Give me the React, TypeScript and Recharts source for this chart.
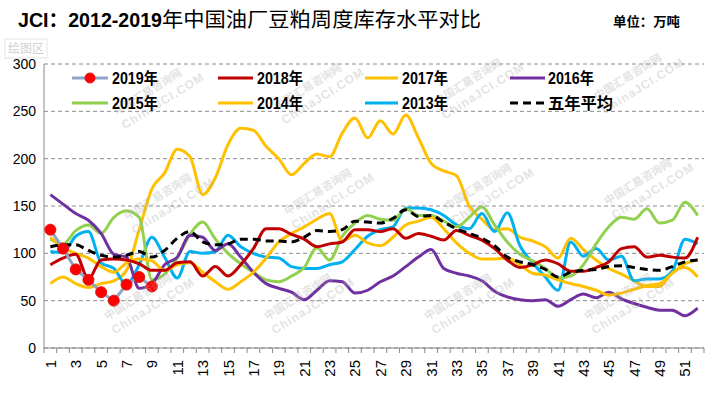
import React from "react";
import { LineChart, Line, XAxis, YAxis, CartesianGrid } from "recharts";

const weeks: number[] = Array.from({ length: 52 }, (_, i) => i + 1);

const y2019 = [125, 105, 83, 72, 59, 50, 67, 75, 65];
const y2018 = [88, 95, 99, 73, 93, 94, 93, 89, 82, 82, 90, 91, 76, 86, 76, 88, 105, 126, 126, 120, 115, 107, 110, 112, 125, 125, 123, 126, 116, 121, 118, 114, 124, 119, 114, 105, 93, 85, 88, 93, 89, 81, 81, 85, 91, 105, 107, 96, 98, 96, 95, 117];
const y2017 = [117, 106, 100, 95, 86, 80, 90, 94, 92, 82, 88, 90, 80, 70, 62, 70, 80, 95, 112, 121, 128, 136, 142, 113, 119, 111, 108, 117, 130, 134, 138, 126, 111, 100, 94, 94, 95, 88, 79, 77, 72, 68, 65, 61, 56, 58, 62, 66, 68, 79, 89, 93];
const y2016 = [162, 152, 142, 135, 121, 99, 96, 63, 68, 88, 96, 119, 117, 103, 110, 96, 80, 68, 63, 59, 51, 61, 71, 70, 58, 61, 70, 76, 86, 96, 104, 84, 79, 76, 71, 60, 54, 51, 50, 51, 44, 51, 57, 53, 59, 52, 47, 43, 40, 40, 34, 42];
const y2015 = [115, 110, 124, 130, 121, 138, 145, 138, 72, 78, 95, 120, 133, 115, 100, 89, 80, 72, 70, 76, 85, 106, 93, 118, 132, 140, 136, 135, 147, 140, 140, 134, 128, 138, 149, 130, 112, 99, 92, 84, 74, 76, 88, 110, 128, 138, 136, 147, 132, 135, 154, 140];
const y2014 = [68, 75, 68, 64, 68, 71, 82, 125, 168, 185, 210, 202, 162, 180, 215, 232, 230, 213, 200, 183, 195, 205, 202, 227, 243, 222, 240, 226, 246, 222, 195, 187, 182, 150, 136, 125, 126, 117, 113, 107, 95, 116, 104, 93, 84, 78, 71, 65, 65, 80, 85, 75];
const y2013 = [102, 101, 118, 123, 90, 84, 67, 88, 117, 96, 74, 102, 100, 102, 119, 107, 100, 96, 95, 86, 84, 84, 88, 91, 104, 118, 125, 128, 148, 148, 146, 140, 130, 126, 142, 123, 143, 108, 90, 75, 61, 112, 97, 105, 93, 97, 71, 73, 73, 81, 115, 110];
const yAvg = [107, 109, 109, 103, 98, 96, 98, 102, 96, 103, 116, 123, 112, 109, 110, 115, 115, 113, 113, 112, 117, 124, 123, 125, 134, 133, 132, 137, 146, 139, 140, 133, 126, 121, 116, 108, 96, 91, 88, 83, 75, 80, 82, 83, 86, 87, 85, 83, 82, 86, 91, 93];

const yTicks = [0, 50, 100, 150, 200, 250, 300];
const xTicks: number[] = [];
for (let i = 0; i <= 52; i++) {
  xTicks.push(i + 0.5);
  if (i + 1 <= 52 && (i + 1) % 2 === 1) xTicks.push(i + 1);
}
xTicks.sort((a, b) => a - b);

const title1 = "JCI：2012-2019";
const title2 = "年中国油厂豆粕周度库存水平对比";
const unitText = "单位：万吨";

const data = weeks.map((w, i) => ({
  week: w,
  s2019: i < y2019.length ? y2019[i] : null,
  s2018: y2018[i],
  s2017: y2017[i],
  s2016: y2016[i],
  s2015: y2015[i],
  s2014: y2014[i],
  s2013: y2013[i],
  avg: yAvg[i],
}));

const legendItems = [
  { name: "2019年", color: "#8EA5C8", row: 0, col: 0, marker: true },
  { name: "2018年", color: "#C00000", row: 0, col: 1 },
  { name: "2017年", color: "#FFC000", row: 0, col: 2 },
  { name: "2016年", color: "#7030A0", row: 0, col: 3 },
  { name: "2015年", color: "#92D050", row: 1, col: 0 },
  { name: "2014年", color: "#FFC000", row: 1, col: 1 },
  { name: "2013年", color: "#00B0F0", row: 1, col: 2 },
  { name: "五年平均", color: "#000000", row: 1, col: 3, dash: true },
];
const legendCols = [
  { x1: 72, x2: 108, tx: 112 },
  { x1: 218, x2: 253, tx: 257 },
  { x1: 365, x2: 398, tx: 402 },
  { x1: 510, x2: 545, tx: 548 },
];
const legendRows = [78, 103];

const XTick = (props: any) => {
  const { x, y, payload } = props;
  const v = payload.value;
  if (v % 1 !== 0) {
    return <line x1={x} x2={x} y1={y} y2={y + 5} stroke="#888" strokeWidth={1} />;
  }
  if (v % 2 === 1) {
    const ty = y + 12;
    return (
      <text
        x={x}
        y={ty}
        transform={`rotate(-90 ${x} ${ty})`}
        textAnchor="end"
        dominantBaseline="central"
        fontSize={15}
        fontFamily="Liberation Sans, Arial, sans-serif"
        fill="#000"
      >
        {v}
      </text>
    );
  }
  return <g />;
};

const watermarkPos = [
  [150, 95], [310, 90], [470, 85], [630, 80],
  [160, 200], [320, 195], [480, 190], [640, 185],
  [140, 300], [300, 300], [460, 300], [620, 300],
];

export default function App() {
  return (
    <div style={{ position: "absolute", left: 0, top: 0, width: 721, height: 396, background: "#fff" }}>
      <LineChart
        width={721}
        height={396}
        data={data}
        margin={{ top: 64, right: 17, bottom: 8, left: 0 }}
      >
        <CartesianGrid horizontal vertical={false} stroke="#8c8c8c" strokeDasharray="4 3" />
        <XAxis
          dataKey="week"
          type="number"
          domain={[0.5, 52.5]}
          ticks={xTicks}
          interval={0}
          tickSize={0}
          tickMargin={0}
          tickLine={false}
          tick={<XTick />}
          axisLine={{ stroke: "#888" }}
          height={40}
          allowDataOverflow
        />
        <YAxis
          domain={[0, 300]}
          ticks={yTicks}
          interval={0}
          width={44}
          tickSize={0}
          tickMargin={8}
          tickLine={false}
          axisLine={{ stroke: "#888" }}
          tick={{ fontSize: 14, fill: "#000", fontFamily: "Liberation Sans, Arial, sans-serif" }}
        />
        <Line type="monotone" dataKey="s2014" stroke="#FFC000" strokeWidth={3} dot={false} isAnimationActive={false} />
        <Line type="monotone" dataKey="s2013" stroke="#00B0F0" strokeWidth={3} dot={false} isAnimationActive={false} />
        <Line type="monotone" dataKey="s2015" stroke="#92D050" strokeWidth={3} dot={false} isAnimationActive={false} />
        <Line type="monotone" dataKey="s2016" stroke="#7030A0" strokeWidth={3} dot={false} isAnimationActive={false} />
        <Line type="monotone" dataKey="s2017" stroke="#FFC000" strokeWidth={3} dot={false} isAnimationActive={false} />
        <Line type="monotone" dataKey="s2018" stroke="#C00000" strokeWidth={3} dot={false} isAnimationActive={false} />
        <Line type="monotone" dataKey="avg" stroke="#000000" strokeWidth={3} strokeDasharray="8 5" dot={false} isAnimationActive={false} />
        <Line
          type="linear"
          dataKey="s2019"
          stroke="#8EA5C8"
          strokeWidth={3}
          dot={{ r: 5.5, fill: "#FF0000", stroke: "#E81010", strokeWidth: 1 }}
          isAnimationActive={false}
        />
      </LineChart>
      <svg
        width={721}
        height={396}
        style={{ position: "absolute", left: 0, top: 0, pointerEvents: "none" }}
      >
        {watermarkPos.map(([wx, wy], i) => (
          <g key={i} transform={`rotate(-32 ${wx} ${wy})`} opacity={0.35}>
            <text x={wx} y={wy} textAnchor="middle" fontSize={11} fill="#b0b0b0" fontFamily="Noto Sans CJK SC" fontWeight="bold">
              中国汇易咨询网
            </text>
            <text x={wx + 8} y={wy + 16} textAnchor="middle" fontSize={12} fill="#b0b0b0" fontFamily="Liberation Sans" fontWeight="bold" letterSpacing={1}>
              ChinaJCI.COM
            </text>
          </g>
        ))}
        <text x={18} y={27} fontSize={20} fontWeight="bold" fontFamily="Liberation Sans, Noto Sans CJK SC" textLength={144} lengthAdjust="spacingAndGlyphs" fill="#000">
          {title1}
        </text>
        <text x={162} y={27} fontSize={20} fontFamily="Noto Sans CJK SC" textLength={319} lengthAdjust="spacingAndGlyphs" fill="#000">
          {title2}
        </text>
        <text x={613} y={26} fontSize={13} fontWeight="bold" fontFamily="Noto Sans CJK SC" textLength={67} lengthAdjust="spacingAndGlyphs" fill="#000">
          {unitText}
        </text>
        <rect x={5} y={39} width={42} height={19} fill="#fff" stroke="#e4e4e4" strokeWidth={1} />
        <text x={26} y={53} fontSize={12} textAnchor="middle" fontFamily="Noto Sans CJK SC" fill="#d0d0d0">
          绘图区
        </text>
        {legendItems.map((it, i) => {
          const c = legendCols[it.col];
          const ly = legendRows[it.row];
          return (
            <g key={i}>
              <line
                x1={c.x1}
                x2={c.x2}
                y1={ly}
                y2={ly}
                stroke={it.color}
                strokeWidth={3}
                strokeDasharray={it.dash ? "8 5" : undefined}
              />
              {it.marker ? <circle cx={(c.x1 + c.x2) / 2} cy={ly} r={5} fill="#FF0000" stroke="#E81010" /> : null}
              <text
                x={c.tx}
                y={ly + 6}
                fontSize={16}
                fontWeight="bold"
                fontFamily="Liberation Sans, Noto Sans CJK SC"
                textLength={it.dash ? 65 : 46}
                lengthAdjust="spacingAndGlyphs"
                fill="#000"
              >
                {it.name}
              </text>
            </g>
          );
        })}
      </svg>
    </div>
  );
}
